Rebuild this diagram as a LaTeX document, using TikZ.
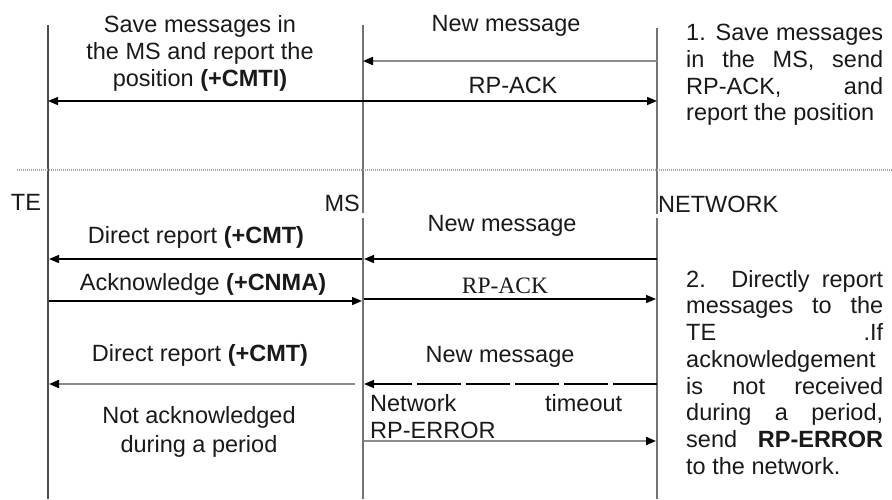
\documentclass[tikz,border=0pt]{standalone}
\usepackage{fontspec}
\setmainfont{Liberation Sans}
\newfontfamily\seriffont{Liberation Serif}
\usetikzlibrary{arrows.meta}
\begin{document}
\begin{tikzpicture}[x=1pt,y=-1pt,
  every node/.style={inner sep=0pt, text=black!90, font=\fontsize{23.5}{27}\selectfont},
  life/.style={line width=2pt, draw=black!55},
  msg/.style={line width=1.4pt, -{Triangle[length=10pt,width=8pt,color=black]}},
  graymsg/.style={msg, draw=black!45, line width=2pt},
  dmsg/.style={msg, dash pattern=on 44pt off 5pt},
  para/.style={text width=197pt, align=justify, anchor=north west, font=\fontsize{23.5}{26.7}\selectfont},
  sep/.style={line width=2pt, draw=black!35, dash pattern=on 1pt off 1pt}
]
\useasboundingbox (0,0) rectangle (892,499);

% lifelines
\coordinate (teT) at (48,25);   \coordinate (teB) at (48,499);
\coordinate (msT) at (363,25);  \coordinate (msG1) at (363,213); \coordinate (msG2) at (363,218); \coordinate (msB) at (363,499);
\coordinate (nwT) at (657,28);  \coordinate (nwG1) at (657,214); \coordinate (nwG2) at (657,218); \coordinate (nwB) at (657,499);
\draw[life, draw=black!70] (teT) -- (teB);
\draw[life, line width=2.6pt] (msT) -- (msG1);
\draw[life, line width=2.6pt] (msG2) -- (msB);
\draw[life] (nwT) -- (nwG1);
\draw[life] (nwG2) -- (nwB);

% separator
\coordinate (sepL) at (17,170); \coordinate (sepR) at (892,170);
\draw[sep] (sepL) -- (sepR);

% ---- part 1
\node[align=center] (t1) at (200,53) {Save messages in\\the MS and report the\\position \textbf{(+CMTI)}};
\node (nm1) at (506,26) {New message};
\node (ack1) at (513,85) {RP-ACK};
\node[para] (p1) at (686,24) {1. Save messages\linebreak in the MS, send\linebreak RP-ACK, and\linebreak report the position};

\coordinate (a1s) at (657,61); \coordinate (a1e) at (363,61);
\draw[graymsg] (a1s) -- (a1e);
\coordinate (a2s) at (48,101); \coordinate (a2e) at (657,101);
\draw[msg, {Triangle[length=10pt,width=8pt]}-{Triangle[length=10pt,width=8pt]}] (a2s) -- (a2e);

% ---- part 2
\node (te) at (26,202) {TE};
\node[anchor=east] (ms) at (360,203) {MS};
\node[anchor=west] (nw) at (658,204) {NETWORK};

\node (dr1) at (196,237) {Direct report \textbf{(+CMT)}};
\node (nm2) at (502,226) {New message};
\node (cnma) at (203,284) {Acknowledge \textbf{(+CNMA)}};
\node (ack2) at (505,286) {\seriffont RP-ACK};
\node (dr2) at (200,355) {Direct report \textbf{(+CMT)}};
\node (nm3) at (500,357) {New message};
\node[align=center, font=\fontsize{23.5}{29}\selectfont] (na) at (199,432) {Not acknowledged\\during a period};
\node[text width=252pt, align=justify, anchor=north west, font=\fontsize{23.5}{27}\selectfont] (nt) at (370,394) {Network timeout\linebreak RP-ERROR};
\node[para] (p2) at (686,270) {2. Directly report\linebreak messages to the\linebreak TE .If\linebreak acknowledgement\linebreak is not received\linebreak during a period,\linebreak send \textbf{RP-ERROR}\linebreak to the network.};

\coordinate (b1s) at (657,259); \coordinate (b1e) at (364,259);
\draw[msg] (b1s) -- (b1e);
\coordinate (b2s) at (362,259); \coordinate (b2e) at (49,259);
\draw[msg] (b2s) -- (b2e);
\coordinate (b3s) at (49,301); \coordinate (b3e) at (362,301);
\draw[msg] (b3s) -- (b3e);
\coordinate (b4s) at (364,299); \coordinate (b4e) at (656,299);
\draw[msg] (b4s) -- (b4e);
\coordinate (b5s) at (355,384); \coordinate (b5e) at (49,384);
\draw[graymsg] (b5s) -- (b5e);
\coordinate (b6s) at (657,384); \coordinate (b6e) at (364,384);
\draw[dmsg] (b6s) -- (b6e);
\coordinate (b7s) at (364,441); \coordinate (b7e) at (656,441);
\draw[graymsg] (b7s) -- (b7e);
\end{tikzpicture}
\end{document}
